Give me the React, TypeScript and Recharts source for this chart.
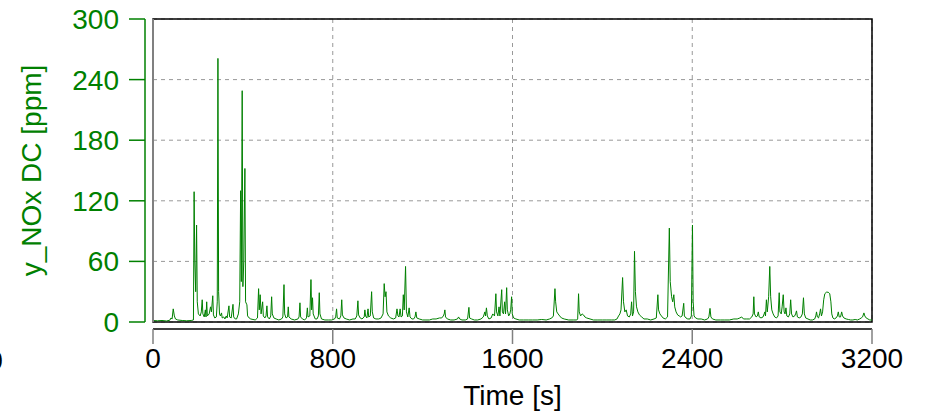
import React from 'react';
import {
  LineChart,
  Line,
  XAxis,
  YAxis,
  CartesianGrid,
  ReferenceArea,
  ReferenceLine,
  Customized,
} from 'recharts';

// time [s] and NOx [ppm]
const timeSec = [
  0, 20, 40, 60, 75, 80, 85, 90, 95, 100, 110, 130, 150, 170, 180,
  183, 186, 190, 194, 197, 202, 210, 215, 219, 222, 228, 233, 236, 239, 242,
  250, 256, 260, 266, 269, 275, 282, 286, 289, 292, 296, 300, 305, 308, 315,
  320, 326, 330, 338, 341, 348, 356, 359, 366, 372, 380, 386, 390, 393, 397,
  400, 404, 409, 412, 418, 421, 428, 435, 445, 455, 465, 470, 473, 477, 481,
  488, 491, 498, 503, 507, 510, 518, 524, 528, 531, 538, 548, 560, 572, 578,
  583, 586, 592, 599, 602, 605, 615, 630, 645, 650, 654, 657, 665, 675, 683,
  687, 690, 698, 703, 706, 710, 713, 722, 730, 736, 740, 743, 750, 765, 780,
  795, 808, 813, 817, 820, 830, 836, 840, 843, 850, 860, 875, 890, 900, 907,
  912, 915, 922, 930, 940, 943, 946, 952, 957, 960, 967, 973, 976, 982, 992,
  1005, 1015, 1024, 1029, 1033, 1037, 1041, 1048, 1058, 1070, 1080, 1086, 1090, 1095, 1100,
  1104, 1110, 1114, 1118, 1124, 1128, 1134, 1140, 1144, 1152, 1160, 1166, 1170, 1174, 1185,
  1200, 1215, 1230, 1245, 1260, 1275, 1285, 1292, 1296, 1299, 1302, 1310, 1325, 1340, 1355,
  1360, 1365, 1375, 1390, 1400, 1406, 1409, 1418, 1430, 1445, 1460, 1470, 1477, 1480, 1484,
  1488, 1495, 1505, 1512, 1520, 1526, 1529, 1535, 1540, 1544, 1552, 1555, 1560, 1565, 1569,
  1574, 1577, 1583, 1588, 1592, 1596, 1599, 1605, 1615, 1630, 1650, 1670, 1690, 1710, 1730,
  1750, 1765, 1775, 1782, 1789, 1792, 1797, 1803, 1810, 1818, 1830, 1850, 1870, 1886, 1890,
  1894, 1897, 1903, 1910, 1916, 1922, 1930, 1945, 1960, 1980, 2000, 2020, 2040, 2055, 2065,
  2072, 2078, 2083, 2090, 2094, 2100, 2106, 2112, 2120, 2126, 2130, 2134, 2139, 2143, 2147,
  2152, 2158, 2165, 2175, 2185, 2200, 2215, 2230, 2240, 2247, 2250, 2256, 2263, 2270, 2280,
  2290, 2298, 2302, 2308, 2313, 2318, 2322, 2328, 2335, 2342, 2348, 2355, 2362, 2365, 2372,
  2380, 2390, 2396, 2401, 2404, 2408, 2415, 2425, 2440, 2455, 2468, 2474, 2479, 2483, 2490,
  2505, 2525, 2545, 2565, 2585, 2600, 2612, 2620, 2628, 2640, 2655, 2665, 2671, 2674, 2677,
  2684, 2690, 2694, 2698, 2706, 2715, 2720, 2723, 2726, 2730, 2734, 2740, 2745, 2749, 2754,
  2760, 2767, 2775, 2782, 2787, 2790, 2796, 2800, 2805, 2809, 2813, 2817, 2821, 2828, 2834,
  2838, 2842, 2848, 2856, 2860, 2864, 2868, 2876, 2884, 2890, 2895, 2899, 2905, 2915, 2925,
  2935, 2945, 2950, 2953, 2957, 2962, 2967, 2971, 2975, 2980, 2985, 2990, 2997, 3005, 3012,
  3017, 3021, 3026, 3032, 3040, 3046, 3050, 3054, 3060, 3065, 3069, 3075, 3085, 3095, 3105,
  3115, 3125, 3135, 3145, 3152, 3158, 3164, 3168, 3174, 3182, 3190, 3200,
];

const noxPpm = [
  1.5, 1.2, 1.5, 1.0, 1.8, 4, 3, 13, 6, 3, 2, 1.5, 1.2, 1.5, 2,
  129, 60, 30, 96, 20, 8, 6, 10, 22, 8, 5, 12, 5, 20, 6,
  8, 15, 10, 26, 7, 4, 5, 20, 261, 30, 8, 6, 9, 4, 5,
  3, 6, 4, 16, 5, 4, 17.5, 5, 3, 3, 8, 20, 130, 40, 229,
  35, 60, 152, 20, 17, 6, 4, 3, 2.5, 2, 4, 33, 12, 27, 8,
  20, 6, 4, 6, 16, 5, 3, 6, 25, 8, 4, 3, 2, 3, 5,
  37, 8, 4, 5, 15, 5, 3, 2, 3, 5, 19, 5, 3, 2, 4,
  14, 5, 6, 42, 12, 24, 8, 3, 3, 6, 29, 8, 3, 2, 2,
  2, 3, 5, 13, 4, 3, 6, 22, 7, 4, 3, 2, 3, 3, 6,
  21, 7, 4, 3, 5, 12, 6, 4, 13, 5, 6, 30, 10, 4, 3,
  3, 4, 8, 38, 25, 30, 10, 6, 4, 3, 4, 13, 6, 5, 13,
  5, 6, 27, 12, 55, 10, 5, 14, 5, 3, 3, 5, 10, 4, 3,
  2, 2, 2, 3, 3, 4, 4, 6, 8, 12, 5, 3, 2, 2, 3,
  5, 3, 2, 2, 3, 14.5, 4, 3, 2, 2, 3, 5, 10, 6, 14,
  6, 3, 4, 8, 6, 28, 10, 6, 15, 6, 32, 10, 8, 20, 8,
  34, 12, 6, 8, 12, 25, 8, 4, 3, 2, 2, 2, 2, 2, 2.5,
  2, 3, 4, 6, 33, 20, 10, 8, 6, 4, 3, 2, 2, 2, 3,
  28, 10, 6, 8, 7, 5, 4, 3, 2, 2, 2, 2, 2, 2, 3,
  6, 8, 12, 44, 20, 10, 12, 6, 5, 8, 20, 6, 10, 70, 30,
  15, 10, 7, 5, 3, 3, 2, 3, 4, 27, 12, 8, 6, 4, 3,
  5, 93, 40, 25, 20, 27, 15, 10, 7, 6, 5, 6, 18.5, 6, 4,
  3, 3, 6, 96, 20, 6, 4, 3, 3, 2, 3, 5, 13.5, 5, 3,
  2, 2, 2, 2, 3, 3, 4, 5, 3, 3, 3, 5, 8, 25, 8,
  5, 6, 10, 5, 4, 5, 8, 10, 6, 22, 10, 25, 55, 25, 12,
  8, 5, 4, 6, 29, 10, 8, 15, 27, 10, 8, 14, 6, 5, 8,
  22, 8, 5, 6, 8, 11, 5, 4, 5, 8, 24, 8, 4, 3, 2,
  2, 3, 6, 10, 5, 4, 8, 13, 6, 10, 22, 28, 29.5, 29.5, 28,
  20, 8, 4, 3, 4, 6, 10, 5, 5, 10, 6, 4, 3, 2.5, 2,
  2, 2.5, 2, 3, 4, 5, 9, 6, 4, 3, 2, 2,
];

const xTicks = [0, 800, 1600, 2400, 3200];
const yTicks = [0, 60, 120, 180, 240, 300];

const GREEN = '#008000';
const FONT = '"Liberation Sans", Arial, sans-serif';
const FS = 28;

const data = timeSec.map((t, i) => ({ t, nox: noxPpm[i] }));

const YLabel = ({ viewBox }: any) => {
  const cy = viewBox.y + viewBox.height / 2;
  return (
    <text
      x={31}
      y={cy}
      transform={`rotate(-90 31 ${cy})`}
      textAnchor="middle"
      dominantBaseline="central"
      fill={GREEN}
      fontSize={FS}
      fontFamily={FONT}
    >
      y_NOx DC [ppm]
    </text>
  );
};

const XLabel = ({ viewBox }: any) => {
  const cx = viewBox.x + viewBox.width / 2;
  return (
    <text x={cx} y={395} textAnchor="middle" dominantBaseline="central" fill="#000" fontSize={FS} fontFamily={FONT}>
      Time [s]
    </text>
  );
};

export default function App() {
  return (
    <div style={{ width: 925, height: 417, background: '#fff' }}>
      <style>{'body{margin:0}'}</style>
      <LineChart
        width={925}
        height={417}
        data={data}
        margin={{ top: 19, right: 53, bottom: 0, left: 0 }}
        style={{ fontFamily: FONT }}
      >
        <XAxis xAxisId="gap" dataKey="t" type="number" domain={[0, 3200]} height={7} tick={false} tickLine={false} axisLine={false} />
        <XAxis
          xAxisId="main"
          dataKey="t"
          type="number"
          domain={[0, 3200]}
          ticks={xTicks}
          height={88}
          axisLine={{ stroke: '#000', strokeWidth: 1.5 }}
          tickLine={{ stroke: '#808080', strokeWidth: 1.5 }}
          tickSize={15}
          tickMargin={4}
          tick={{ fill: '#000', fontSize: FS, fontFamily: FONT }}
          label={<XLabel />}
        />
        <YAxis yAxisId="gap" domain={[0, 300]} width={8} tick={false} tickLine={false} axisLine={false} />
        <YAxis
          yAxisId="main"
          domain={[0, 300]}
          ticks={yTicks}
          width={145}
          axisLine={{ stroke: GREEN, strokeWidth: 1.5 }}
          tickLine={{ stroke: GREEN, strokeWidth: 1.5 }}
          tickSize={16}
          tickMargin={10}
          tick={{ fill: GREEN, fontSize: FS, fontFamily: FONT }}
          label={<YLabel />}
        />
        <CartesianGrid xAxisId="main" yAxisId="main" stroke="#999" strokeDasharray="4 4" />
        <Line
          xAxisId="main"
          yAxisId="main"
          dataKey="nox"
          type="linear"
          stroke={GREEN}
          strokeWidth={1}
          dot={false}
          isAnimationActive={false}
        />
        <ReferenceArea xAxisId="main" yAxisId="main" x1={0} x2={3200} y1={0} y2={300} fill="none" stroke="#000" strokeWidth={1.5} ifOverflow="visible" />
        <ReferenceLine xAxisId="main" yAxisId="main" x={0} stroke="#808080" strokeWidth={2} ifOverflow="visible" />
        <Customized
          component={() => (
            <text x={-5} y={360} textAnchor="middle" dominantBaseline="central" fill="#000" fontSize={FS} fontFamily={FONT}>
              0
            </text>
          )}
        />
      </LineChart>
    </div>
  );
}
